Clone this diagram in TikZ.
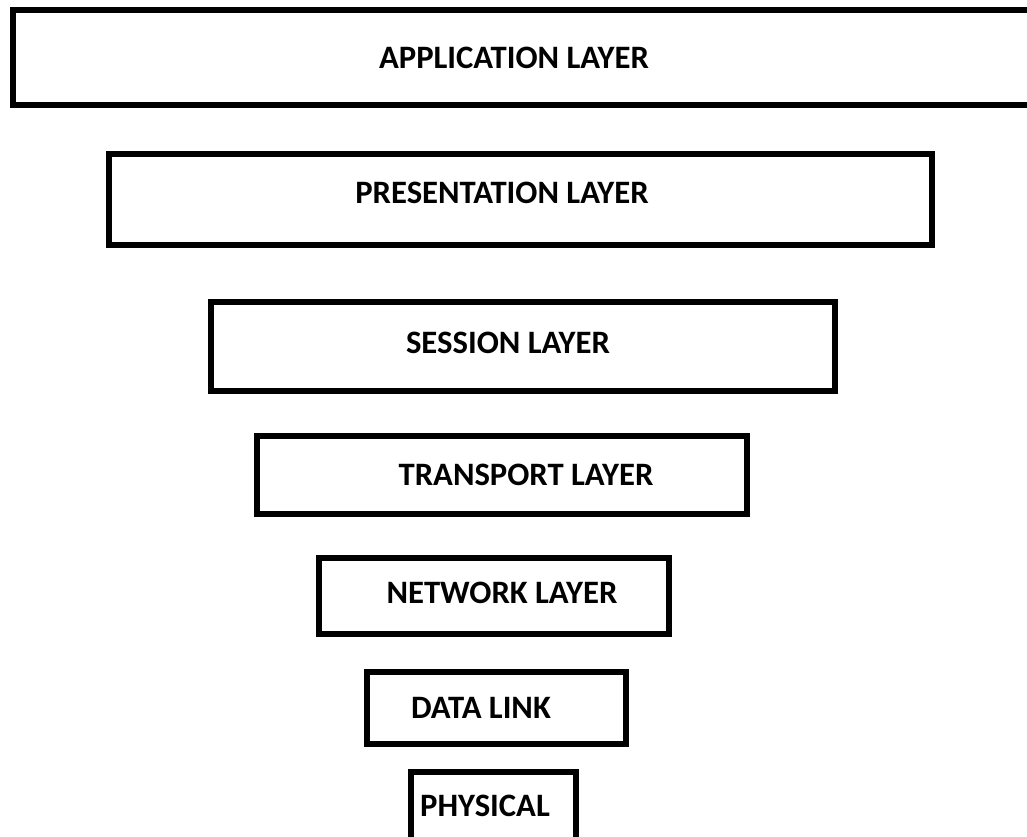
\documentclass[tikz,border=0pt]{standalone}
\usepackage{fontspec}
\newfontfamily\layerfont{Carlito}
\newcommand{\lyfont}{\layerfont\bfseries\fontsize{18.6}{21}\selectfont}

\begin{document}
\begin{tikzpicture}[x=0.02cm,y=-0.02cm,
    layerbox/.style={line width=0.11cm},
    layertext/.style={font=\lyfont,anchor=base,inner sep=0pt}]
   \useasboundingbox (0,0) rectangle (1027,836);
   \clip (0,0) rectangle (1027,836);
   \begin{scope}
    % boxes, widest on top
    \draw[layerbox] (13,10) rectangle (1060,105);
    \draw[layerbox] (109,154) rectangle (932,245);
    \draw[layerbox] (211,302) rectangle (835,391);
    \draw[layerbox] (257,436) rectangle (747,514);
    \draw[layerbox] (319,558) rectangle (669,634);
    \draw[layerbox] (367,672) rectangle (626,744);
    \draw[layerbox] (411,772) rectangle (576,860);
   \end{scope}
   \begin{scope}
    % labels
    \node[layertext] (app) at (514,68) {APPLICATION LAYER};
    \node[layertext] (pres) at (502,203) {PRESENTATION LAYER};
    \node[layertext] (sess) at (508,353) {SESSION LAYER};
    \node[layertext] (trans) at (526,485) {TRANSPORT LAYER};
    \node[layertext] (net) at (502,603) {NETWORK LAYER};
    \node[layertext] (link) at (481,718) {DATA LINK};
    \node[layertext] (phys) at (485,816) {PHYSICAL};
   \end{scope}
\end{tikzpicture}
\end{document}
